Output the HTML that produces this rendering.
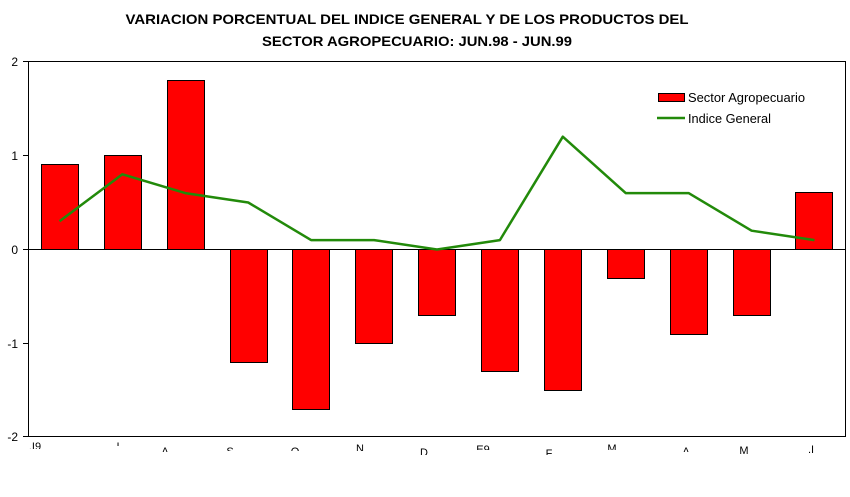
<!DOCTYPE html>
<html><head><meta charset="utf-8"><style>
html,body{margin:0;padding:0;background:#fff;}
svg{display:block;}
</style></head><body>
<svg width="850" height="497" viewBox="0 0 850 497" xmlns="http://www.w3.org/2000/svg" font-family="Liberation Sans, Arial, sans-serif">
<rect width="850" height="497" fill="#fff"/>
<text x="407" y="24" font-size="14" font-weight="bold" text-anchor="middle" textLength="563" lengthAdjust="spacingAndGlyphs">VARIACION PORCENTUAL DEL INDICE GENERAL Y DE LOS PRODUCTOS DEL</text>
<text x="417" y="46" font-size="14" font-weight="bold" text-anchor="middle" textLength="310" lengthAdjust="spacingAndGlyphs">SECTOR AGROPECUARIO: JUN.98 - JUN.99</text>
<!-- plot frame -->
<path d="M28.5 61.5 H845.5 V436.5 H28.5 Z" fill="none" stroke="#000" stroke-width="1"/>
<!-- y ticks -->
<g stroke="#000" stroke-width="1">
<line x1="23" y1="61.5" x2="28" y2="61.5"/>
<line x1="23" y1="155.5" x2="28" y2="155.5"/>
<line x1="23" y1="249.5" x2="28" y2="249.5"/>
<line x1="23" y1="343.5" x2="28" y2="343.5"/>
<line x1="23" y1="436.5" x2="28" y2="436.5"/>
</g>
<g font-size="12" text-anchor="end">
<text x="18" y="66">2</text>
<text x="18" y="160">1</text>
<text x="18" y="254">0</text>
<text x="18" y="348">-1</text>
<text x="18" y="441">-2</text>
</g>
<!-- bars -->
<g fill="#ff0000" stroke="#000" stroke-width="1">
<rect x="41.5" y="164.5" width="37" height="85"/>
<rect x="104.5" y="155.5" width="37" height="94"/>
<rect x="167.5" y="80.5" width="37" height="169"/>
<rect x="230.5" y="249.5" width="37" height="113"/>
<rect x="292.5" y="249.5" width="37" height="160"/>
<rect x="355.5" y="249.5" width="37" height="94"/>
<rect x="418.5" y="249.5" width="37" height="66"/>
<rect x="481.5" y="249.5" width="37" height="122"/>
<rect x="544.5" y="249.5" width="37" height="141"/>
<rect x="607.5" y="249.5" width="37" height="29"/>
<rect x="670.5" y="249.5" width="37" height="85"/>
<rect x="733.5" y="249.5" width="37" height="66"/>
<rect x="795.5" y="192.5" width="37" height="57"/>
</g>
<!-- zero line -->
<line x1="28" y1="249.5" x2="846" y2="249.5" stroke="#000" stroke-width="1"/>
<!-- line series -->
<polyline fill="none" stroke="#228a0a" stroke-width="2.5" stroke-linejoin="round"
points="59.5,221.3 122.4,174.3 185.3,193.1 248.2,202.5 311.1,240.1 374.1,240.1 437,249.5 499.9,240.1 562.8,136.7 625.7,193.1 688.6,193.1 751.6,230.7 814.5,240.1"/>
<!-- legend -->
<rect x="658.5" y="93.5" width="26" height="8" fill="#ff0000" stroke="#000" stroke-width="1"/>
<text x="688" y="102" font-size="12.5" textLength="117" lengthAdjust="spacingAndGlyphs">Sector Agropecuario</text>
<line x1="657" y1="118" x2="685" y2="118" stroke="#228a0a" stroke-width="2.5"/>
<text x="688" y="123" font-size="12.5" textLength="83" lengthAdjust="spacingAndGlyphs">Indice General</text>
<!-- clipped x labels -->
<defs>
<clipPath id="l1"><rect x="20" y="442" width="30" height="7"/></clipPath>
<clipPath id="l2"><rect x="105" y="441" width="30" height="5"/></clipPath>
<clipPath id="l3"><rect x="150" y="447" width="30" height="5"/></clipPath>
<clipPath id="l4"><rect x="215" y="447" width="30" height="4"/></clipPath>
<clipPath id="l5"><rect x="280" y="446" width="30" height="5"/></clipPath>
<clipPath id="l6"><rect x="345" y="444" width="30" height="7"/></clipPath>
<clipPath id="l7"><rect x="410" y="447" width="30" height="8"/></clipPath>
<clipPath id="l8"><rect x="470" y="444" width="30" height="6"/></clipPath>
<clipPath id="l9"><rect x="535" y="448" width="30" height="7"/></clipPath>
<clipPath id="l10"><rect x="598" y="443" width="30" height="7"/></clipPath>
<clipPath id="l11"><rect x="670" y="447" width="30" height="5"/></clipPath>
<clipPath id="l12"><rect x="730" y="445" width="30" height="9"/></clipPath>
<clipPath id="l13"><rect x="798" y="444" width="30" height="9"/></clipPath>
</defs>
<g font-size="11" text-anchor="middle" fill="#000">
<text x="35" y="450" clip-path="url(#l1)">.I9</text>
<text x="118" y="450" clip-path="url(#l2)">I</text>
<text x="165" y="455" clip-path="url(#l3)">A</text>
<text x="230" y="455" clip-path="url(#l4)">S</text>
<text x="295" y="455" clip-path="url(#l5)">O</text>
<text x="360" y="452" clip-path="url(#l6)">N</text>
<text x="424" y="456" clip-path="url(#l7)">D</text>
<text x="483" y="453" clip-path="url(#l8)">E9</text>
<text x="549" y="457" clip-path="url(#l9)">F</text>
<text x="612" y="452" clip-path="url(#l10)">M</text>
<text x="686" y="455" clip-path="url(#l11)">A</text>
<text x="744" y="454" clip-path="url(#l12)">M</text>
<text x="811" y="453" clip-path="url(#l13)">.I</text>
</g>
</svg>
</body></html>
